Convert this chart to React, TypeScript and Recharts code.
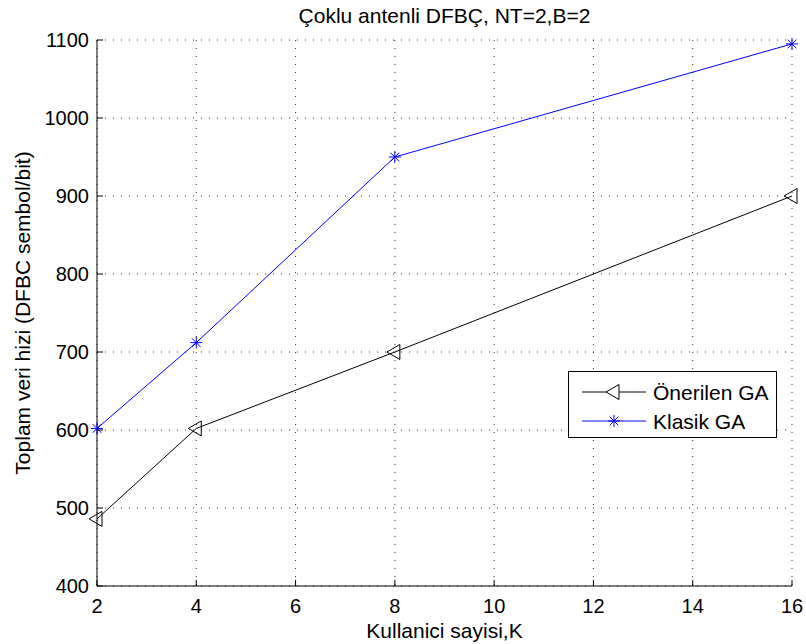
import React from 'react';
import { LineChart, Line, XAxis, YAxis, CartesianGrid, Legend, Label } from 'recharts';

const users = [2, 4, 8, 16];
const proposedGA = [486, 602, 700, 900];
const classicGA = [602, 712, 950, 1095];
const xTicks = [2, 4, 6, 8, 10, 12, 14, 16];
const yTicks = [400, 500, 600, 700, 800, 900, 1000, 1100];
const seriesNames = ['Önerilen GA', 'Klasik GA'];
const seriesColors = ['#000000', '#0000ff'];
const titleText = 'Çoklu antenli DFBÇ, NT=2,B=2';
const xLabelText = 'Kullanici sayisi,K';
const yLabelText = 'Toplam veri hizi (DFBC sembol/bit)';

const data = users.map((k, i) => ({ k, oneri: proposedGA[i], klasik: classicGA[i] }));

const FONT = '"Liberation Sans", Arial, Helvetica, sans-serif';
const FS = 20;
const FSL = 21;

const CHART_W = 806;
const CHART_H = 644;
const MARGIN = { top: 40, right: 14, bottom: 0, left: 0 };
const Y_AXIS_W = 97;

const triPath = (cx: number, cy: number) =>
  `M${cx - 8},${cy} L${cx + 5},${cy - 7.5} L${cx + 5},${cy + 7.5} Z`;

const TriDot = (props: any) => {
  const { cx, cy, index } = props;
  if (cx == null || cy == null) return <g key={`t${index}`} />;
  return <path key={`t${index}`} d={triPath(cx, cy)} fill="none" stroke={seriesColors[0]} strokeWidth={1} />;
};

const starEl = (cx: number, cy: number, color: string, key?: string) => {
  const r = 6;
  const d = 4.3;
  return (
    <g key={key} stroke={color} strokeWidth={1}>
      <line x1={cx - r} y1={cy} x2={cx + r} y2={cy} />
      <line x1={cx} y1={cy - r} x2={cx} y2={cy + r} />
      <line x1={cx - d} y1={cy - d} x2={cx + d} y2={cy + d} />
      <line x1={cx - d} y1={cy + d} x2={cx + d} y2={cy - d} />
    </g>
  );
};

const StarDot = (props: any) => {
  const { cx, cy, index } = props;
  if (cx == null || cy == null) return <g key={`s${index}`} />;
  return starEl(cx, cy, seriesColors[1], `s${index}`);
};

const XTickBottom = (props: any) => {
  const { x, y, payload } = props;
  return (
    <g>
      <line x1={x} x2={x} y1={y} y2={y - 6} stroke="#000" />
      <text x={x} y={y + 27} textAnchor="middle" fontSize={FS} fontFamily={FONT} fill="#000">
        {payload.value}
      </text>
    </g>
  );
};

const XTickTop = (props: any) => {
  const { x, y } = props;
  return <line x1={x} x2={x} y1={y} y2={y + 6} stroke="#000" />;
};

const YTickLeft = (props: any) => {
  const { x, y, payload } = props;
  return (
    <g>
      <line x1={x} x2={x + 6} y1={y} y2={y} stroke="#000" />
      <text x={x - 8} y={y} dy="0.36em" textAnchor="end" fontSize={FS} fontFamily={FONT} fill="#000">
        {payload.value}
      </text>
    </g>
  );
};

const YTickRight = (props: any) => {
  const { x, y } = props;
  return <line x1={x} x2={x - 6} y1={y} y2={y} stroke="#000" />;
};

const LegendBox = () => (
  <div
    style={{
      width: 209,
      height: 67,
      border: '1px solid #000',
      background: '#fff',
      boxSizing: 'border-box',
    }}
  >
    <svg width={207} height={65} style={{ display: 'block' }}>
      {seriesNames.map((name, i) => {
        const cy = 20 + i * 29;
        return (
          <g key={name}>
            <line x1={13} x2={77} y1={cy} y2={cy} stroke={seriesColors[i]} strokeWidth={1} />
            {i === 0 ? (
              <path d={triPath(45, cy)} fill="#fff" stroke={seriesColors[0]} strokeWidth={1} />
            ) : (
              starEl(45, cy, seriesColors[1])
            )}
            <text x={84} y={cy} dy="0.36em" fontSize={FSL} fontFamily={FONT} fill="#000">
              {name}
            </text>
          </g>
        );
      })}
    </svg>
  </div>
);

export default function App() {
  const plotLeft = MARGIN.left + Y_AXIS_W;
  const plotWidth = CHART_W - MARGIN.right - plotLeft;
  return (
    <div style={{ position: 'absolute', left: 0, top: 0, width: CHART_W, height: CHART_H, background: '#fff' }}>
      <div
        style={{
          position: 'absolute',
          left: plotLeft,
          width: plotWidth,
          top: 5,
          textAlign: 'center',
          fontFamily: FONT,
          fontSize: FSL,
          lineHeight: '21px',
          color: '#000',
          whiteSpace: 'nowrap',
          zIndex: 2,
        }}
      >
        {titleText}
      </div>
      <LineChart width={CHART_W} height={CHART_H} data={data} margin={MARGIN}>
        <CartesianGrid stroke="#333" strokeDasharray="1 7" strokeWidth={1} horizontalValues={yTicks} verticalValues={xTicks} />
        <XAxis
          dataKey="k"
          type="number"
          domain={[2, 16]}
          ticks={xTicks}
          height={58}
          axisLine={{ stroke: '#000' }}
          tickLine={false}
          tickSize={0}
          tickMargin={0}
          tick={<XTickBottom />}
          interval={0}
        >
          <Label
            content={(p: any) => {
              const vb = p.viewBox;
              return (
                <text x={vb.x + vb.width / 2} y={vb.y + 52} textAnchor="middle" fontSize={FSL} fontFamily={FONT} fill="#000">
                  {xLabelText}
                </text>
              );
            }}
          />
        </XAxis>
        <XAxis
          xAxisId="top"
          dataKey="k"
          type="number"
          orientation="top"
          domain={[2, 16]}
          ticks={xTicks}
          height={0}
          axisLine={{ stroke: '#000' }}
          tickLine={false}
          tickSize={0}
          tick={<XTickTop />}
          interval={0}
        />
        <YAxis
          type="number"
          domain={[400, 1100]}
          ticks={yTicks}
          width={Y_AXIS_W}
          axisLine={{ stroke: '#000' }}
          tickLine={false}
          tickSize={0}
          tickMargin={0}
          tick={<YTickLeft />}
          interval={0}
        >
          <Label
            content={(p: any) => {
              const vb = p.viewBox;
              const cx = vb.x + 22;
              const cy = vb.y + vb.height / 2;
              return (
                <text
                  x={cx}
                  y={cy}
                  dy="0.36em"
                  transform={`rotate(-90, ${cx}, ${cy})`}
                  textAnchor="middle"
                  fontSize={FSL}
                  fontFamily={FONT}
                  fill="#000"
                >
                  {yLabelText}
                </text>
              );
            }}
          />
        </YAxis>
        <YAxis
          yAxisId="right"
          type="number"
          orientation="right"
          domain={[400, 1100]}
          ticks={yTicks}
          width={0}
          axisLine={{ stroke: '#000' }}
          tickLine={false}
          tickSize={0}
          tick={<YTickRight />}
          interval={0}
        />
        <Legend
          layout="horizontal"
          verticalAlign="middle"
          align="center"
          content={<LegendBox />}
          wrapperStyle={{ position: 'absolute', left: 568, top: 371, width: 209, height: 67 }}
        />
        <Line
          type="linear"
          dataKey="oneri"
          name={seriesNames[0]}
          stroke={seriesColors[0]}
          strokeWidth={1}
          dot={TriDot}
          activeDot={false}
          isAnimationActive={false}
        />
        <Line
          type="linear"
          dataKey="klasik"
          name={seriesNames[1]}
          stroke={seriesColors[1]}
          strokeWidth={1}
          dot={StarDot}
          activeDot={false}
          isAnimationActive={false}
        />
      </LineChart>
    </div>
  );
}
